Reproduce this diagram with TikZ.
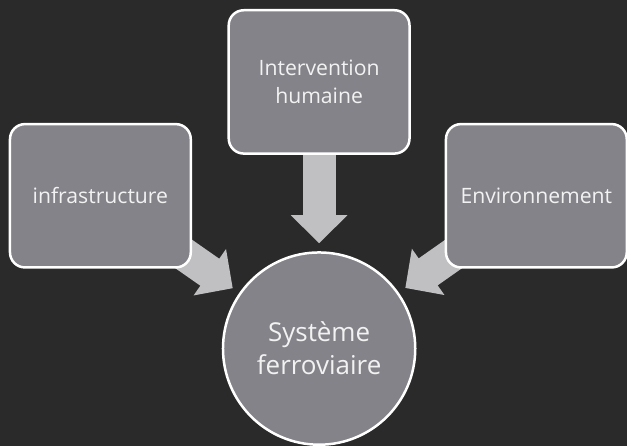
\documentclass[tikz,border=0pt]{standalone}
\usepackage{fontspec}
\setmainfont{Open Sans}
\usetikzlibrary{arrows.meta}
\definecolor{fond}{RGB}{43,42,43}
\definecolor{gris}{RGB}{132,131,137}
\definecolor{grisclair}{RGB}{192,192,194}
\definecolor{texte}{RGB}{242,242,242}
\pgfdeclarelayer{fondplan}
\pgfdeclarelayer{fleches}
\pgfsetlayers{fondplan,fleches,main}

\begin{document}
\begin{tikzpicture}[x=1pt,y=-1pt,
	boite/.style={draw=white, line width=2.5pt, fill=gris, rounded corners=15pt, minimum width=181pt, minimum height=143.5pt, text=texte, align=center, font=\fontsize{21.2}{27.5}\selectfont},
	cercle/.style={draw=white, line width=2.5pt, fill=gris, circle, minimum size=192.5pt, inner sep=0pt, text=texte, align=center, font=\fontsize{26}{33}\selectfont},
	fleche/.style={draw=grisclair, line width=33pt, -{Triangle[length=28pt, width=55pt]}, shorten >=8pt}]
	\begin{pgfonlayer}{fondplan}
	\fill[fond] (0,0) rectangle (628,447);
	\end{pgfonlayer}
	
	\node[boite] (infra) at (100.5,196) {infrastructure};
	\node[boite] (humain) at (319.5,82) {Intervention\\humaine};
	\node[boite] (envir) at (537,196) {Environnement};
	\node[cercle] (systeme) at (319.5,349) {Système\\ferroviaire};
	
	\begin{pgfonlayer}{fleches}
	\draw[fleche] (infra.center) -- (systeme);
	\draw[fleche] (humain.center) -- (systeme);
	\draw[fleche] (envir.center) -- (systeme);
	\end{pgfonlayer}
\end{tikzpicture}
\end{document}
